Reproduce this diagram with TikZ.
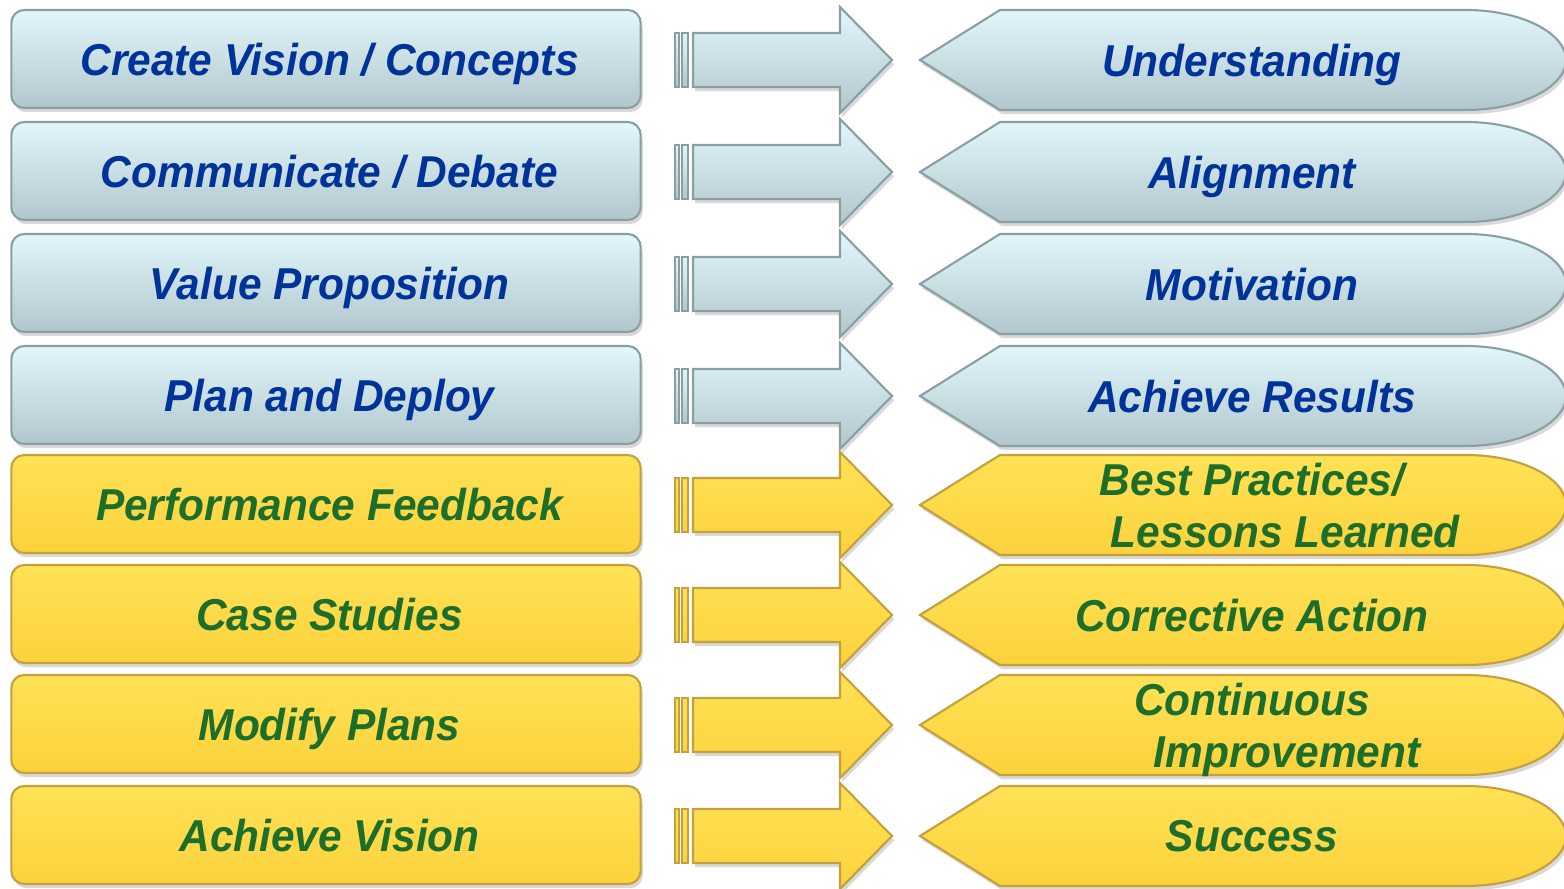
\documentclass[tikz,border=0pt]{standalone}
\usepackage{fontspec}
\setmainfont{Liberation Sans}[FakeStretch=0.95]
\usetikzlibrary{shadows}
\definecolor{icetop}{RGB}{226,247,251}
\definecolor{icebot}{RGB}{178,199,205}
\definecolor{iceline}{RGB}{138,158,164}
\definecolor{icetxt}{RGB}{0,51,153}
\definecolor{goldtop}{RGB}{255,226,86}
\definecolor{goldbot}{RGB}{252,210,60}
\definecolor{goldline}{RGB}{196,160,62}
\definecolor{goldtxt}{RGB}{28,110,42}
\tikzset{
  tone/.style={top color=#1top, bottom color=#1bot, draw=#1line, line width=0.6pt},
  shade3d/.style={drop shadow={opacity=0.3, shadow xshift=0.6pt, shadow yshift=-1.2pt}},
  lbl/.style={font=\fontsize{12.7}{14.7}\selectfont\bfseries\itshape, text depth=0pt, align=center, inner sep=0pt},
  tile/.style={lbl, rounded corners=0.13cm, minimum width=6.29cm, minimum height=0.98cm}
}
\begin{document}
\begin{tikzpicture}[x=0.01cm, y=-0.01cm]
  \useasboundingbox (0,0) rectangle (1564,889);
  \foreach \y/\tn/\a/\b [count=\i] in {
      59/ice/{Create Vision / Concepts}/Understanding,
      171/ice/{Communicate / Debate}/Alignment,
      283/ice/{Value Proposition}/Motivation,
      395/ice/{Plan and Deploy}/{Achieve Results},
      504/gold/{Performance Feedback}/{Best Practices/\\\hspace*{19pt}Lessons Learned},
      614/gold/{Case Studies}/{Corrective Action},
      724/gold/{Modify Plans}/{Continuous\\\hspace*{20pt}Improvement},
      835/gold/{Achieve Vision}/Success}
  {
    % left tile
    \node[tile, tone=\tn, shade3d, text=\tn txt] (l\i) at (326,\y) {\hspace*{2pt}\a};
    % block arrow with two bars
    \draw[tone=\tn, line width=0.4pt] (675,\y-26) rectangle (679,\y+28);
    \draw[tone=\tn, line width=0.4pt] (682,\y-26) rectangle (688,\y+28);
    \draw[tone=\tn, shade3d] (693,\y-26) -- (840,\y-26) -- (840,\y-52) -- (892,\y+1)
      -- (840,\y+54) -- (840,\y+28) -- (693,\y+28) -- cycle;
    % right pointer
    \draw[tone=\tn, shade3d] (920,\y+1) -- (1000,\y-49) -- (1466,\y-49)
      .. controls (1521,\y-49) and (1566,\y-26) .. (1566,\y+1)
      .. controls (1566,\y+28) and (1521,\y+51) .. (1466,\y+51)
      -- (1000,\y+51) -- cycle;
    \node[lbl, text=\tn txt] (r\i) at (1252,\y+1) {\b};
  }
\end{tikzpicture}
\end{document}
